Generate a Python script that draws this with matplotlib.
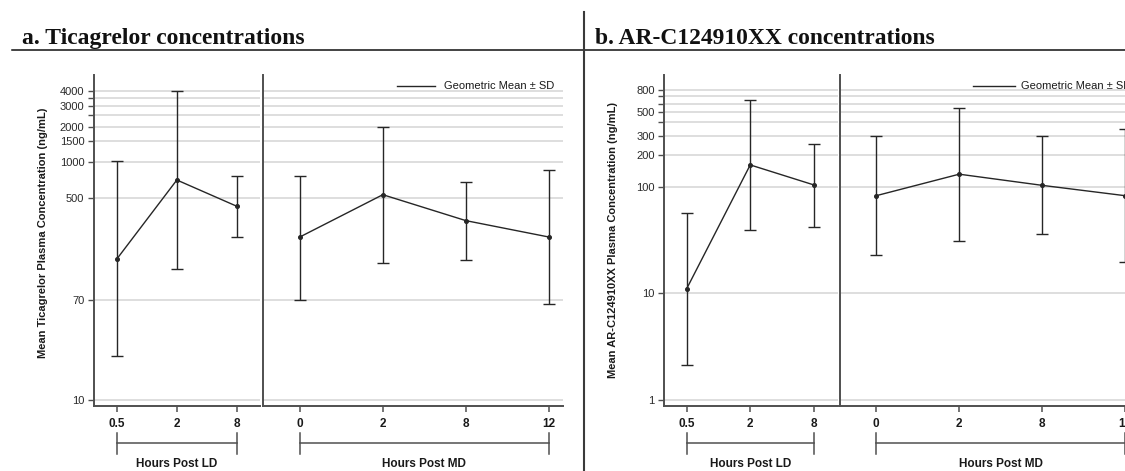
import matplotlib
matplotlib.use('Agg')
import matplotlib.pyplot as plt
import numpy as np
from matplotlib.lines import Line2D
from matplotlib.ticker import NullLocator

W, H = 1125, 471
plt.rcParams['font.family'] = ['Liberation Sans', 'DejaVu Sans']

# ---------------- data ----------------
ld_labels = ['0.5', '2', '8']
md_labels = ['0', '2', '8', '12']

tica_ld_mean = [153, 710, 426]
tica_ld_upper = [1026, 4000, 771]
tica_ld_lower = [23.3, 126, 234]
tica_md_mean = [235, 534, 323, 235]
tica_md_upper = [767, 1982, 679, 861]
tica_md_lower = [70, 143, 151, 64]

arc_ld_mean = [11.1, 160, 104]
arc_ld_upper = [57, 653, 253]
arc_ld_lower = [2.14, 39, 42.2]
arc_md_mean = [82.4, 131, 103, 82.4]
arc_md_upper = [298, 549, 298, 345]
arc_md_lower = [22.8, 31.2, 36.3, 19.9]

tica_grid = [10, 70, 500, 1000, 1500, 2000, 2500, 3000, 3500, 4000]
tica_labels = [10, 70, 500, 1000, 1500, 2000, 3000, 4000]
arc_grid = [1, 10, 100, 200, 300, 400, 500, 600, 700, 800]
arc_labels = [1, 10, 100, 200, 300, 500, 800]

ld_title = 'Hours Post LD'
md_title = 'Hours Post MD'
legend_text = 'Geometric Mean \u00b1 SD'
header_a = 'a. Ticagrelor concentrations'
header_b = 'b. AR-C124910XX concentrations'
ylabel_a = 'Mean Ticagrelor Plasma Concentration (ng/mL)'
ylabel_b = 'Mean AR-C124910XX Plasma Concentration (ng/mL)'

# ---------------- style ----------------
SPINE = '#4f4f4f'
LINE = '#262626'
GRID = '#d4d4d4'

fig = plt.figure(figsize=(W / 100, H / 100), dpi=100)


def fx(px):
    return px / W


def fy(py):
    return 1 - py / H


def px_axes(l, t, r, b):
    return fig.add_axes([fx(l), fy(b), (r - l) / W, (b - t) / H])


def draw_panel(ax, labels, mean, lo, hi, xlim, ylim, grid, lab, show_y, xtitle):
    x = np.arange(len(labels))
    ax.set_yscale('log')
    ax.set_xlim(xlim)
    ax.set_ylim(ylim)
    for g in grid:
        ax.axhline(g, color=GRID, lw=1.1, zorder=0)
    mean = np.array(mean, float)
    yerr = [mean - np.array(lo, float), np.array(hi, float) - mean]
    ax.errorbar(x, mean, yerr=yerr, color=LINE, lw=1.0, elinewidth=1.0,
                capsize=4.2, capthick=1.0, marker='o', ms=2.6, zorder=3)
    for s in ['top', 'right']:
        ax.spines[s].set_visible(False)
    for s in ['left', 'bottom']:
        ax.spines[s].set_color(SPINE)
        ax.spines[s].set_linewidth(1.4)
    ax.set_xticks(x)
    ax.set_xticklabels(labels, fontweight='bold', fontsize=8.5, color='#1a1a1a')
    ax.tick_params(axis='x', length=4.5, width=1.1, color=SPINE, pad=4)
    ax.yaxis.set_minor_locator(NullLocator())
    if show_y:
        ax.set_yticks(grid)
        ax.set_yticklabels([str(v) if v in lab else '' for v in grid],
                           fontsize=8, color='#2a2a2a')
        ax.tick_params(axis='y', length=4.5, width=1.0, color=SPINE, pad=2.5)
    else:
        ax.set_yticks([])
    # bracket below the ticks
    tr = ax.get_xaxis_transform()
    hpx = ax.get_position().height * H
    yb = -36.7 / hpx
    y0 = -27 / hpx
    y1 = -48 / hpx
    ax.plot([x[0], x[-1]], [yb, yb], transform=tr, color=SPINE, lw=1.1, clip_on=False)
    ax.plot([x[0], x[0]], [y0, y1], transform=tr, color=SPINE, lw=1.1, clip_on=False)
    ax.plot([x[-1], x[-1]], [y0, y1], transform=tr, color=SPINE, lw=1.1, clip_on=False)
    ax.text((x[0] + x[-1]) / 2, -58 / hpx, xtitle, transform=tr, ha='center', va='center',
            fontsize=8.5, fontweight='bold', color='#1a1a1a')


# panel a
ax1 = px_axes(94, 75, 260, 406)
draw_panel(ax1, ld_labels, tica_ld_mean, tica_ld_lower, tica_ld_upper,
           (-0.377, 2.382), (8.9, 5430), tica_grid, tica_labels, True, ld_title)
ax2 = px_axes(263.3, 75, 563, 406)
draw_panel(ax2, md_labels, tica_md_mean, tica_md_lower, tica_md_upper,
           (-0.438, 3.168), (8.9, 5430), tica_grid, tica_labels, False, md_title)

# panel b
ax3 = px_axes(664.3, 75, 838.3, 406)
draw_panel(ax3, ld_labels, arc_ld_mean, arc_ld_lower, arc_ld_upper,
           (-0.353, 2.387), (0.884, 1112), arc_grid, arc_labels, True, ld_title)
ax4 = px_axes(840, 75, 1139, 406)
draw_panel(ax4, md_labels, arc_md_mean, arc_md_lower, arc_md_upper,
           (-0.437, 3.168), (0.884, 1112), arc_grid, arc_labels, False, md_title)

# y labels
fig.text(fx(43), fy(233), ylabel_a, rotation=90, ha='center', va='center',
         fontsize=8, fontweight='bold', color='#1a1a1a')
fig.text(fx(613), fy(240), ylabel_b, rotation=90, ha='center', va='center',
         fontsize=8, fontweight='bold', color='#1a1a1a')

# legends
for lx0, lx1, tx in [(396.7, 435, 444), (973, 1015, 1021)]:
    fig.add_artist(Line2D([fx(lx0), fx(lx1)], [fy(86), fy(86)], color=LINE, lw=1.0))
    fig.text(fx(tx), fy(86), legend_text, ha='left', va='center', fontsize=8, color='#1a1a1a')

# headers
fig.text(fx(22), fy(44), header_a, ha='left', va='baseline', fontsize=17,
         fontweight='bold', family='Liberation Serif', color='#111111')
fig.text(fx(595), fy(44), header_b, ha='left', va='baseline', fontsize=16.9,
         fontweight='bold', family='Liberation Serif', color='#111111')
fig.add_artist(Line2D([fx(12), 1], [fy(49.5), fy(49.5)], color='#111111', lw=1.1))
fig.add_artist(Line2D([fx(584.3), fx(584.3)], [fy(12), 0], color='#3a3a3a', lw=1.5))

fig.savefig('out.png', dpi=100)
